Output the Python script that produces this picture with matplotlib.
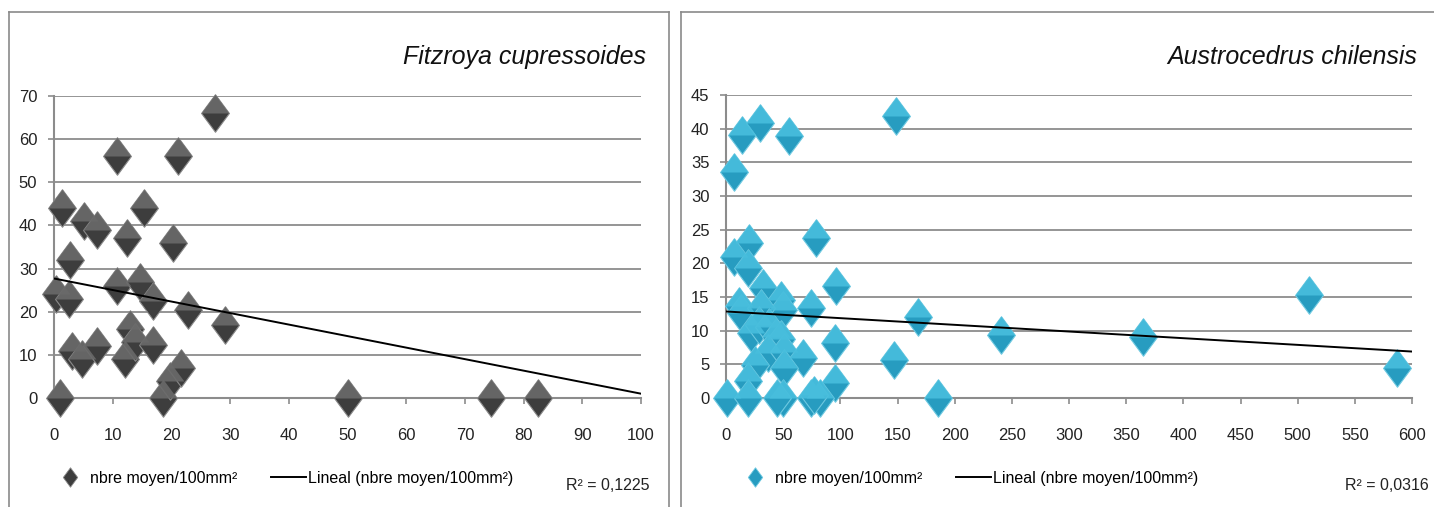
import numpy as np
import matplotlib
matplotlib.use('Agg')
import matplotlib.pyplot as plt
from matplotlib.path import Path
from matplotlib.lines import Line2D

plt.rcParams['font.family'] = ['Liberation Sans', 'DejaVu Sans']

# --- datos ---
fitz_x = [1.1, 1.4, 0.3, 2.5, 2.8, 3.1, 4.8, 5.1, 7.3, 7.3, 10.7, 10.7, 12.1, 12.4, 12.9,
          13.8, 14.6, 15.4, 16.9, 16.9, 18.5, 19.7, 20.2, 21.1, 21.6, 22.8, 27.5, 29.2,
          50, 74.5, 82.5]
fitz_y = [0, 44, 24, 23, 32, 11, 9, 41, 39, 12, 56, 26, 9, 37, 16,
          13, 27, 44, 22.5, 12.3, 0, 4, 36, 56, 7, 20.5, 66, 17,
          0, 0, 0]
fitz_trend_x = [0, 100]
fitz_trend_y = [27.7, 1.0]

aus_x = [1, 7, 14, 30, 55.5, 149, 20, 7, 19, 32, 79, 96, 11.7, 13, 48, 50, 31, 74.5, 168,
         22, 29, 38, 44, 48, 36.5, 51, 67, 25, 51, 19, 95, 147, 95, 19, 49.6, 45, 74.5,
         82, 77, 185, 240.6, 365, 509.5, 586.8]
aus_y = [0, 33.6, 39.1, 40.8, 38.9, 41.9, 23, 21, 19.3, 16.3, 23.7, 16.6, 13.6, 12.6, 14.6,
         13.1, 13.4, 13.4, 12.1, 9.6, 10.9, 10.6, 9.1, 8.7, 6.7, 6.9, 5.9, 4.9, 4.5, 2.5,
         8.2, 5.7, 2.2, 0, 0, 0, 0, 0, 0.5, 0, 9.3, 9.0, 15.3, 4.4]
aus_trend_x = [0, 600]
aus_trend_y = [12.85, 6.9]

serie_label = 'nbre moyen/100mm²'
trend_label = 'Lineal (nbre moyen/100mm²)'

W, H = 1434, 507
fig = plt.figure(figsize=(W / 100, H / 100), dpi=100)

k = 1.35  # rombo mas alto que ancho
diamond = Path([(0, -k), (1, 0), (0, k), (-1, 0), (0, -k)],
               [Path.MOVETO, Path.LINETO, Path.LINETO, Path.LINETO, Path.CLOSEPOLY])
# mitad superior (mas clara); el ultimo punto solo mantiene la misma escala
top_half = Path([(-1, 0), (1, 0), (0, k), (-1, 0), (0, -k)],
                [Path.MOVETO, Path.LINETO, Path.LINETO, Path.CLOSEPOLY, Path.MOVETO])

grid_c = '#8c8c8c'
frame_c = '#8a8a8a'
fs = 11.5
ms = 27


def frame(left, right, top):
    fig.add_artist(Line2D([left / W, left / W], [0, 1 - top / H], color=frame_c, lw=1.2))
    fig.add_artist(Line2D([left / W, min(right, W) / W], [1 - top / H, 1 - top / H],
                          color=frame_c, lw=1.2))
    if right < W:
        fig.add_artist(Line2D([right / W] * 2, [0, 1 - top / H], color=frame_c, lw=1.2))


def panel(rect_px, x, y, tx, ty, xlim, ylim, xstep, ystep, dark, light, edge, title, r2,
          leg_x, r2_x):
    l, r, t, b = rect_px
    ax = fig.add_axes([l / W, 1 - b / H, (r - l) / W, (b - t) / H])
    ax.set_xlim(*xlim)
    ax.set_ylim(*ylim)
    ax.set_xticks(np.arange(xlim[0], xlim[1] + 1, xstep))
    ax.set_yticks(np.arange(ylim[0], ylim[1] + 1, ystep))
    ax.yaxis.grid(True, color=grid_c, lw=1.3)
    ax.set_axisbelow(True)
    for s in ['top', 'right']:
        ax.spines[s].set_visible(False)
    for s in ['left', 'bottom']:
        ax.spines[s].set_color(grid_c)
        ax.spines[s].set_linewidth(1.5)
    ax.tick_params(axis='x', direction='out', length=4.5, width=1.2, color=grid_c,
                   pad=17, labelsize=12, labelcolor='#222222')
    ax.tick_params(axis='y', direction='out', length=4, width=1.2, color=grid_c,
                   pad=8, labelsize=12, labelcolor='#222222')
    ax.plot(x, y, linestyle='none', marker=diamond, ms=ms, mfc=dark, mec=edge, mew=0.8,
            clip_on=False, zorder=3)
    ax.plot(x, y, linestyle='none', marker=top_half, ms=ms, mfc=light, mec='none',
            clip_on=False, zorder=3, alpha=0.9)
    ax.plot(tx, ty, color='black', lw=1.4, zorder=4)

    fig.text((r + 5) / W, 1 - 57 / H, title, ha='right', va='center', fontsize=18,
             style='italic', color='#111111')

    h1 = Line2D([], [], linestyle='none', marker=diamond, ms=14, mfc=dark, mec=edge, mew=0.6)
    h2 = Line2D([], [], color='black', lw=1.4)
    fig.legend([h1, h2], [serie_label, trend_label], ncol=2, frameon=False,
               loc='center left', bbox_to_anchor=(leg_x / W, 1 - 478 / H), fontsize=fs,
               handlelength=2.2, handletextpad=0.15, columnspacing=2.1)
    fig.text(r2_x / W, 1 - 485 / H, r2, ha='left', va='center', fontsize=fs, color='#222222')
    return ax


frame(9, 669, 12)
frame(681, 1500, 12)

panel((54, 641, 96, 398), fitz_x, fitz_y, fitz_trend_x, fitz_trend_y, (0, 100), (0, 70), 10, 10,
      '#3d3d3d', '#6a6a6a', '#8a8a8a', 'Fitzroya cupressoides', 'R² = 0,1225', 38, 566)
panel((726, 1412, 95, 398), aus_x, aus_y, aus_trend_x, aus_trend_y, (0, 600), (0, 45), 50, 5,
      '#279cc0', '#48bedd', '#6ec9e1', 'Austrocedrus chilensis', 'R² = 0,0316', 723, 1345)

fig.savefig('out.png', dpi=100)
